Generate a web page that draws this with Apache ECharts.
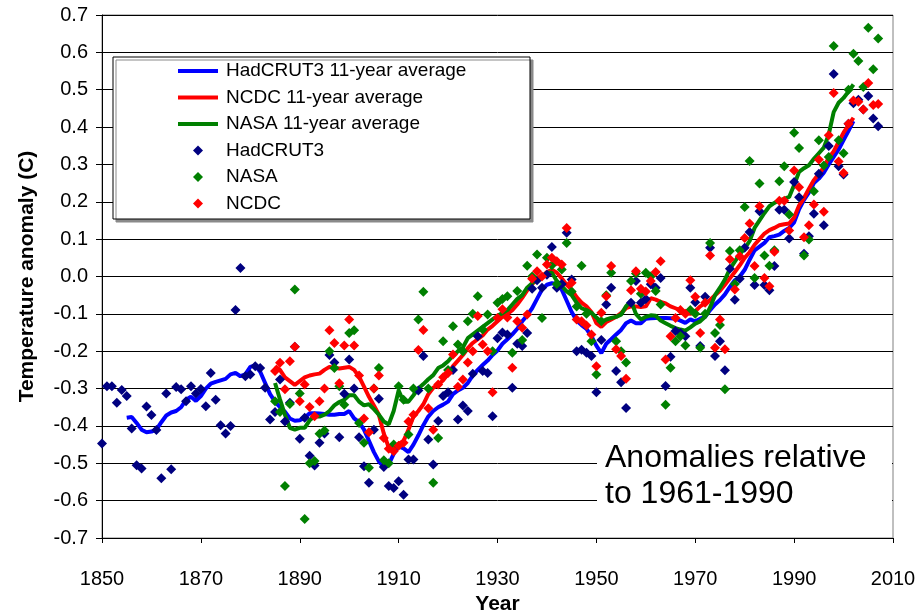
<!DOCTYPE html>
<html>
<head>
<meta charset="utf-8">
<script src="https://cdn.jsdelivr.net/npm/echarts@6/dist/echarts.min.js"></script>
<style>
  html, body { margin: 0; padding: 0; background: #ffffff; }
  #chart { width: 920px; height: 615px; }
</style>
</head>
<body>
<div id="chart"></div>
<script>
// Annual global temperature anomalies (deg C, relative to 1961-1990)
const hadStart = 1850;
const hadcrut3 = [
  -0.447, -0.294, -0.294, -0.338, -0.304, -0.320, -0.407, -0.505, -0.514, -0.348,
  -0.371, -0.411, -0.540, -0.313, -0.516, -0.296, -0.302, -0.334, -0.294, -0.313,
  -0.301, -0.347, -0.258, -0.330, -0.398, -0.420, -0.400, -0.090, 0.023, -0.267,
  -0.262, -0.240, -0.245, -0.298, -0.383, -0.363, -0.276, -0.388, -0.338, -0.188,
  -0.434, -0.378, -0.480, -0.506, -0.445, -0.420, -0.210, -0.230, -0.430, -0.314,
  -0.222, -0.300, -0.430, -0.508, -0.552, -0.410, -0.327, -0.510, -0.561, -0.566,
  -0.548, -0.584, -0.490, -0.490, -0.305, -0.213, -0.436, -0.503, -0.387, -0.320,
  -0.310, -0.250, -0.383, -0.345, -0.360, -0.260, -0.160, -0.253, -0.258, -0.374,
  -0.165, -0.150, -0.155, -0.298, -0.180, -0.186, -0.151, -0.033, -0.010, -0.030,
  0.005, 0.079, -0.030, -0.020, 0.117, -0.008, -0.200, -0.196, -0.204, -0.213,
  -0.310, -0.170, -0.075, -0.030, -0.253, -0.283, -0.352, -0.070, -0.012, -0.070,
  -0.060, -0.021, -0.030, -0.004, -0.293, -0.215, -0.146, -0.151, -0.160, -0.030,
  -0.069, -0.186, -0.054, 0.077, -0.213, -0.173, -0.251, 0.021, -0.062, -0.006,
  0.077, 0.119, -0.023, 0.175, -0.023, -0.037, 0.028, 0.179, 0.179, 0.102,
  0.253, 0.212, 0.061, 0.108, 0.168, 0.275, 0.137, 0.349, 0.542, 0.295,
  0.273, 0.409, 0.464, 0.473, 0.447, 0.483, 0.423, 0.402
];

const ncdcStart = 1885;
const ncdc = [
  -0.253, -0.231, -0.302, -0.227, -0.188,
  -0.334, -0.289, -0.349, -0.374, -0.334, -0.300, -0.144, -0.178, -0.286, -0.185,
  -0.115, -0.185, -0.265, -0.380, -0.417, -0.300, -0.265, -0.432, -0.461, -0.468,
  -0.453, -0.445, -0.388, -0.370, -0.197, -0.143, -0.353, -0.410, -0.289, -0.270,
  -0.258, -0.209, -0.295, -0.276, -0.230, -0.200, -0.106, -0.182, -0.200, -0.310,
  -0.111, -0.088, -0.110, -0.244, -0.120, -0.137, -0.102, -0.006, 0.014, 0.000,
  0.032, 0.050, 0.041, 0.032, 0.130, -0.017, -0.115, -0.120, -0.131, -0.155,
  -0.240, -0.097, -0.053, 0.028, -0.195, -0.213, -0.274, -0.037, 0.014, -0.033,
  -0.040, -0.012, 0.012, 0.041, -0.222, -0.160, -0.111, -0.090, -0.100, -0.010,
  -0.054, -0.151, -0.070, 0.056, -0.191, -0.115, -0.195, 0.046, -0.035, 0.054,
  0.103, 0.142, 0.028, 0.188, -0.004, -0.026, 0.066, 0.203, 0.203, 0.123,
  0.284, 0.239, 0.105, 0.137, 0.193, 0.313, 0.173, 0.378, 0.491, 0.308,
  0.277, 0.409, 0.471, 0.468, 0.447, 0.518, 0.459, 0.462
];

const nasaStart = 1885;
const nasa = [
  -0.334, -0.363, -0.561, -0.341, -0.035,
  -0.313, -0.649, -0.500, -0.494, -0.421, -0.412, -0.200, -0.245, -0.294, -0.343,
  -0.151, -0.144, -0.392, -0.445, -0.512, -0.300, -0.245, -0.492, -0.500, -0.450,
  -0.294, -0.330, -0.423, -0.300, -0.115, -0.041, -0.300, -0.552, -0.432, -0.173,
  -0.250, -0.133, -0.182, -0.200, -0.120, -0.100, -0.053, -0.142, -0.102, -0.200,
  -0.070, -0.060, -0.053, -0.204, -0.039, -0.170, 0.029, 0.000, 0.059, -0.111,
  0.050, 0.030, -0.020, 0.019, 0.090, -0.040, -0.080, 0.029, -0.100, -0.173,
  -0.262, -0.120, -0.050, 0.010, -0.173, -0.200, -0.230, -0.012, 0.008, -0.046,
  0.010, 0.000, -0.039, -0.075, -0.343, -0.244, -0.173, -0.160, -0.185, -0.090,
  -0.100, -0.191, -0.100, 0.090, -0.151, -0.130, -0.302, 0.068, -0.020, 0.070,
  0.186, 0.309, -0.004, 0.249, 0.056, 0.029, 0.070, 0.255, 0.295, 0.166,
  0.385, 0.344, 0.056, 0.099, 0.228, 0.365, 0.297, 0.320, 0.617, 0.365,
  0.330, 0.500, 0.596, 0.577, 0.507, 0.666, 0.555, 0.637
];

// Centred 11-year averages
const hadAvgStart = 1855;
const hadAvg = [
  -0.378, -0.376, -0.392, -0.410, -0.417,
  -0.415, -0.410, -0.390, -0.372, -0.364, -0.360, -0.350, -0.330, -0.322, -0.333,
  -0.320, -0.300, -0.287, -0.282, -0.278, -0.274, -0.262, -0.258, -0.267, -0.262,
  -0.242, -0.238, -0.255, -0.285, -0.315, -0.335, -0.350, -0.362, -0.380, -0.386,
  -0.385, -0.378, -0.366, -0.366, -0.367, -0.368, -0.370, -0.370, -0.368, -0.368,
  -0.360, -0.380, -0.390, -0.410, -0.440, -0.470, -0.495, -0.510, -0.503, -0.475,
  -0.455, -0.460, -0.470, -0.450, -0.425, -0.398, -0.375, -0.360, -0.350, -0.343,
  -0.335, -0.315, -0.305, -0.298, -0.285, -0.265, -0.250, -0.237, -0.225, -0.210,
  -0.198, -0.180, -0.168, -0.155, -0.140, -0.120, -0.104, -0.085, -0.060, -0.035,
  -0.022, -0.018, -0.020, -0.035, -0.065, -0.095, -0.118, -0.130, -0.140, -0.160,
  -0.185, -0.205, -0.180, -0.168, -0.155, -0.143, -0.125, -0.118, -0.125, -0.125,
  -0.113, -0.112, -0.111, -0.111, -0.111, -0.112, -0.113, -0.118, -0.124, -0.115,
  -0.120, -0.113, -0.108, -0.090, -0.075, -0.063, -0.048, -0.028, -0.010, 0.000,
  0.018, 0.045, 0.070, 0.080, 0.090, 0.105, 0.108, 0.112, 0.122, 0.130,
  0.145, 0.180, 0.205, 0.225, 0.250, 0.262, 0.278, 0.300, 0.320, 0.340,
  0.365, 0.390, 0.416
];

const ncdcAvgStart = 1885;
const ncdcAvg = [
  -0.240, -0.250, -0.270, -0.280, -0.290,
  -0.280, -0.270, -0.265, -0.262, -0.260, -0.250, -0.242, -0.244, -0.246, -0.244,
  -0.242, -0.250, -0.268, -0.295, -0.322, -0.345, -0.370, -0.420, -0.458, -0.460,
  -0.448, -0.440, -0.410, -0.375, -0.360, -0.342, -0.315, -0.298, -0.290, -0.278,
  -0.260, -0.240, -0.225, -0.210, -0.192, -0.178, -0.168, -0.158, -0.142, -0.132,
  -0.120, -0.108, -0.100, -0.090, -0.075, -0.057, -0.037, -0.020, -0.010, 0.000,
  0.012, 0.018, 0.010, -0.005, -0.022, -0.035, -0.055, -0.070, -0.080, -0.095,
  -0.125, -0.135, -0.122, -0.115, -0.108, -0.098, -0.085, -0.080, -0.080, -0.082,
  -0.080, -0.058, -0.062, -0.068, -0.072, -0.080, -0.085, -0.090, -0.097, -0.100,
  -0.093, -0.080, -0.072, -0.063, -0.050, -0.038, -0.022, -0.005, 0.012, 0.030,
  0.050, 0.065, 0.085, 0.100, 0.115, 0.124, 0.130, 0.137, 0.140, 0.142,
  0.158, 0.190, 0.210, 0.235, 0.258, 0.275, 0.292, 0.318, 0.335, 0.360,
  0.385, 0.405, 0.425
];

const nasaAvgStart = 1885;
const nasaAvg = [
  -0.285, -0.329, -0.370, -0.405, -0.410,
  -0.405, -0.405, -0.385, -0.374, -0.375, -0.370, -0.360, -0.345, -0.336, -0.330,
  -0.318, -0.318, -0.335, -0.345, -0.342, -0.355, -0.370, -0.388, -0.396, -0.360,
  -0.305, -0.335, -0.335, -0.318, -0.300, -0.288, -0.275, -0.264, -0.245, -0.238,
  -0.227, -0.212, -0.200, -0.190, -0.165, -0.155, -0.145, -0.135, -0.125, -0.115,
  -0.105, -0.098, -0.090, -0.075, -0.060, -0.050, -0.030, -0.018, -0.005, 0.000,
  0.010, 0.010, -0.012, -0.026, -0.040, -0.050, -0.070, -0.085, -0.090, -0.097,
  -0.110, -0.122, -0.115, -0.111, -0.108, -0.102, -0.080, -0.065, -0.100, -0.115,
  -0.108, -0.104, -0.105, -0.118, -0.125, -0.132, -0.138, -0.142, -0.145, -0.136,
  -0.126, -0.120, -0.108, -0.083, -0.050, -0.030, -0.008, 0.020, 0.040, 0.060,
  0.075, 0.095, 0.130, 0.150, 0.170, 0.188, 0.197, 0.204, 0.208, 0.213,
  0.245, 0.280, 0.290, 0.298, 0.315, 0.330, 0.345, 0.380, 0.440, 0.465,
  0.478, 0.495, 0.514
];

// Axis ticks
const yearTicks = [1850, 1870, 1890, 1910, 1930, 1950, 1970, 1990, 2010];
const anomalyTicks = [-0.7, -0.6, -0.5, -0.4, -0.3, -0.2, -0.1, 0.0, 0.1, 0.2, 0.3, 0.4, 0.5, 0.6, 0.7];

function pairs(start, values) {
  return values.map((v, i) => [start + i, v]);
}

const FONT = "'Liberation Sans', Arial, sans-serif";
const lineIcon = 'path://M0,0H40V4H0Z';
const diamondIcon = 'path://M5,0L10,5L5,10L0,5Z';

const chart = echarts.init(document.getElementById('chart'), null, { renderer: 'canvas' });

chart.setOption({
  animation: false,
  backgroundColor: '#ffffff',
  textStyle: { fontFamily: FONT, color: '#000' },
  grid: {
    left: 102, right: 27, top: 15, bottom: 77,
    outerBoundsMode: 'none',
    show: true, borderColor: '#808080', borderWidth: 1, backgroundColor: 'transparent'
  },
  xAxis: {
    type: 'value',
    min: yearTicks[0],
    max: yearTicks[yearTicks.length - 1],
    interval: yearTicks[1] - yearTicks[0],
    name: 'Year',
    nameLocation: 'middle',
    nameGap: 55,
    nameTextStyle: { fontFamily: FONT, fontWeight: 'bold', fontSize: 21, color: '#000' },
    axisLine: { show: true, onZero: false, lineStyle: { color: '#000', width: 1 } },
    axisTick: { show: true, length: 5, lineStyle: { color: '#000' } },
    axisLabel: { margin: 31, fontFamily: FONT, fontSize: 20, color: '#000', formatter: v => String(Math.round(v)) },
    splitLine: { show: false }
  },
  yAxis: {
    type: 'value',
    min: anomalyTicks[0],
    max: anomalyTicks[anomalyTicks.length - 1],
    interval: 0.1,
    name: 'Temperature anomaly (C)',
    nameLocation: 'middle',
    nameGap: 64,
    nameTextStyle: { fontFamily: FONT, fontWeight: 'bold', fontSize: 21, color: '#000' },
    axisLine: { show: true, lineStyle: { color: '#000', width: 1 } },
    axisTick: { show: true, length: 6, lineStyle: { color: '#000' } },
    axisLabel: {
      margin: 14, fontFamily: FONT, fontSize: 20, color: '#000',
      formatter: v => (Math.abs(v) < 1e-9 ? 0 : v).toFixed(1)
    },
    splitLine: { show: true, lineStyle: { color: '#000', width: 1 } }
  },
  legend: {
    left: 178, top: 61, orient: 'vertical',
    padding: 0, itemGap: 6.5, itemWidth: 40, itemHeight: 10,
    symbolKeepAspect: true,
    textStyle: { fontFamily: FONT, fontSize: 19, color: '#000', lineHeight: 20, padding: [0, 0, 0, 3] },
    data: [
      { name: 'HadCRUT3 11-year average', icon: lineIcon },
      { name: 'NCDC 11-year average', icon: lineIcon },
      { name: 'NASA 11-year average', icon: lineIcon },
      { name: 'HadCRUT3', icon: diamondIcon },
      { name: 'NASA', icon: diamondIcon },
      { name: 'NCDC', icon: diamondIcon }
    ]
  },
  graphic: [
    {
      type: 'rect', z: 3,
      shape: { x: 113, y: 57, width: 417, height: 162 },
      style: { fill: '#ffffff', stroke: '#000', lineWidth: 1, shadowColor: '#8a8a8a', shadowOffsetX: 3, shadowOffsetY: 3 }
    },
    {
      type: 'rect', z: 3,
      shape: { x: 597, y: 438, width: 295, height: 76 },
      style: { fill: '#ffffff' }
    },
    {
      type: 'text', z: 4, left: 605, top: 440,
      style: {
        text: 'Anomalies relative\nto 1961-1990',
        fontFamily: FONT, fontSize: 32, lineHeight: 36, fill: '#000'
      }
    }
  ],
  series: [
    {
      name: 'HadCRUT3 11-year average', type: 'line', data: pairs(hadAvgStart, hadAvg),
      symbol: 'none', z: 2, itemStyle: { color: '#0000ff' },
      lineStyle: { color: '#0000ff', width: 4 }
    },
    {
      name: 'NCDC 11-year average', type: 'line', data: pairs(ncdcAvgStart, ncdcAvg),
      symbol: 'none', z: 2, itemStyle: { color: '#ff0000' },
      lineStyle: { color: '#ff0000', width: 4 }
    },
    {
      name: 'NASA 11-year average', type: 'line', data: pairs(nasaAvgStart, nasaAvg),
      symbol: 'none', z: 2, itemStyle: { color: '#008000' },
      lineStyle: { color: '#008000', width: 4 }
    },
    {
      name: 'HadCRUT3', type: 'scatter', data: pairs(hadStart, hadcrut3),
      symbol: 'diamond', symbolSize: 10, z: 2, itemStyle: { color: '#000080', opacity: 1 }
    },
    {
      name: 'NASA', type: 'scatter', data: pairs(nasaStart, nasa),
      symbol: 'diamond', symbolSize: 10, z: 2, itemStyle: { color: '#008000', opacity: 1 }
    },
    {
      name: 'NCDC', type: 'scatter', data: pairs(ncdcStart, ncdc),
      symbol: 'diamond', symbolSize: 10, z: 2, itemStyle: { color: '#ff0000', opacity: 1 }
    }
  ]
});
</script>
</body>
</html>
